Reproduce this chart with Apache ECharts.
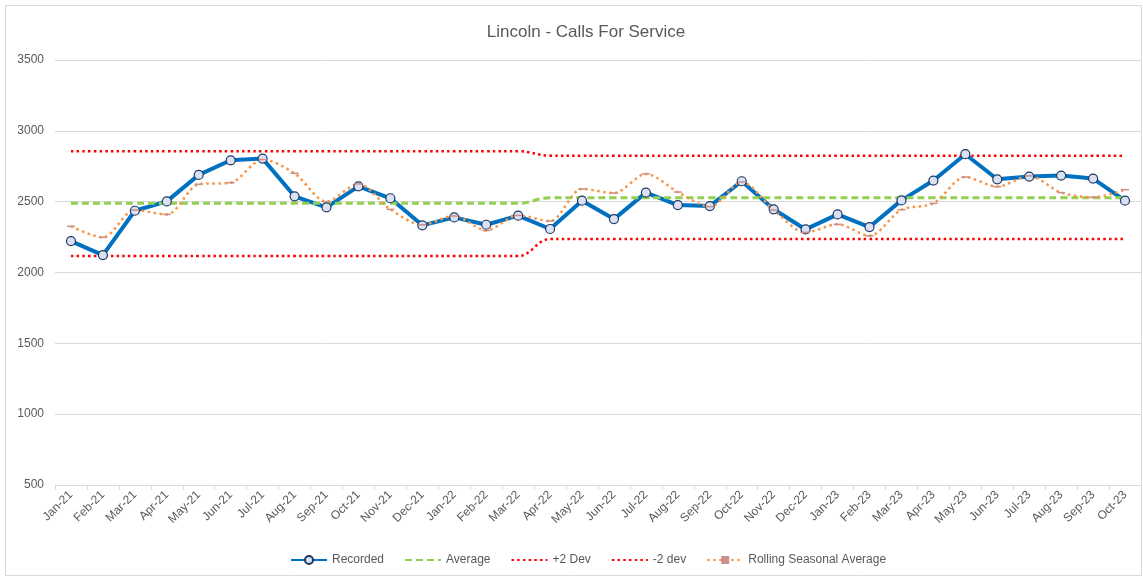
<!DOCTYPE html>
<html>
<head>
<meta charset="utf-8">
<script src="https://cdn.jsdelivr.net/npm/echarts@6/dist/echarts.min.js"></script>
<style>
  html, body { margin: 0; padding: 0; background: #fff; }
  #chart { width: 1143px; height: 577px; }
</style>
</head>
<body>
<div id="chart"></div>
<script>
const months = ['Jan-21','Feb-21','Mar-21','Apr-21','May-21','Jun-21','Jul-21','Aug-21','Sep-21','Oct-21','Nov-21','Dec-21',
  'Jan-22','Feb-22','Mar-22','Apr-22','May-22','Jun-22','Jul-22','Aug-22','Sep-22','Oct-22','Nov-22','Dec-22',
  'Jan-23','Feb-23','Mar-23','Apr-23','May-23','Jun-23','Jul-23','Aug-23','Sep-23','Oct-23']

const recorded = [2222, 2123, 2436, 2502, 2689, 2792, 2804, 2538, 2460, 2608, 2524, 2333,
  2389, 2337, 2401, 2307, 2507, 2377, 2564, 2476, 2469, 2644, 2446, 2304,
  2410, 2321, 2509, 2649, 2835, 2658, 2677, 2684, 2663, 2507]

const average = [2488, 2488, 2488, 2488, 2488, 2488, 2488, 2488, 2488, 2488, 2488, 2488,
  2488, 2488, 2488, 2528, 2528, 2528, 2528, 2528, 2528, 2528, 2528, 2528,
  2528, 2528, 2528, 2528, 2528, 2528, 2528, 2528, 2528, 2528]

const plus2Dev = [2856, 2856, 2856, 2856, 2856, 2856, 2856, 2856, 2856, 2856, 2856, 2856,
  2856, 2856, 2856, 2825, 2825, 2825, 2825, 2825, 2825, 2825, 2825, 2825,
  2825, 2825, 2825, 2825, 2825, 2825, 2825, 2825, 2825, 2825]

const minus2Dev = [2116, 2116, 2116, 2116, 2116, 2116, 2116, 2116, 2116, 2116, 2116, 2116,
  2116, 2116, 2116, 2236, 2236, 2236, 2236, 2236, 2236, 2236, 2236, 2236,
  2236, 2236, 2236, 2236, 2236, 2236, 2236, 2236, 2236, 2236]

const rollingAvg = [2326, 2248, 2441, 2410, 2623, 2634, 2797, 2700, 2500, 2625, 2446, 2337,
  2399, 2297, 2403, 2363, 2590, 2561, 2696, 2568, 2465, 2639, 2441, 2283,
  2340, 2259, 2443, 2488, 2674, 2606, 2682, 2564, 2531, 2585]

const yTicks = [500, 3500, 500] // min, max, step

const font = 'Liberation Sans'
const textColor = '#595959'
// flat dash marker used by the rolling average (keeps its aspect in the legend too)
const dashMark = 'path://M0 0H16V7H0Z'

const chart = echarts.init(document.getElementById('chart'))
chart.setOption({
  animation: false,
  textStyle: { fontFamily: font },
  graphic: [{
    type: 'rect',
    shape: { x: 5.5, y: 5.5, width: 1136, height: 570 },
    style: { fill: 'none', stroke: '#D9D9D9', lineWidth: 1 },
    silent: true,
    z: -10
  }],
  title: {
    text: 'Lincoln - Calls For Service',
    left: 581,
    textAlign: 'center',
    top: 19,
    textStyle: { fontFamily: font, fontSize: 17, fontWeight: 'normal', color: textColor }
  },
  legend: {
    left: 285,
    top: 549,
    itemWidth: 36,
    itemHeight: 10,
    itemGap: 20,
    symbolKeepAspect: true,
    textStyle: { fontFamily: font, fontSize: 12, color: textColor },
    data: [
      { name: 'Recorded' },
      { name: 'Average', itemStyle: { opacity: 0 } },
      { name: '+2 Dev', itemStyle: { opacity: 0 } },
      { name: '-2 dev', itemStyle: { opacity: 0 } },
      { name: 'Rolling Seasonal Average' }
    ]
  },
  grid: { left: 55, right: 2, top: 60, bottom: 92 },
  xAxis: {
    type: 'category',
    data: months,
    boundaryGap: true,
    axisLine: { lineStyle: { color: '#D9D9D9', width: 1 } },
    axisTick: { show: true, length: 5, lineStyle: { color: '#D9D9D9' } },
    axisLabel: { rotate: 45, fontSize: 12, color: textColor, margin: 8, interval: 0 }
  },
  yAxis: {
    type: 'value',
    min: yTicks[0],
    max: yTicks[1],
    interval: yTicks[2],
    axisLine: { show: false },
    axisTick: { show: false },
    axisLabel: { fontSize: 12, color: textColor, margin: 11, formatter: v => String(v) },
    splitLine: { lineStyle: { color: '#D9D9D9', width: 1 } }
  },
  series: [
    {
      name: 'Recorded',
      type: 'line',
      data: recorded,
      symbol: 'circle',
      symbolSize: 9,
      showSymbol: true,
      lineStyle: { color: '#0070C0', width: 4 },
      itemStyle: { color: '#D9E1F2', borderColor: '#203864', borderWidth: 1.2 }
    },
    {
      name: 'Average',
      type: 'line',
      data: average,
      symbol: 'none',
      smooth: 0.4,
      lineStyle: { color: '#92D050', width: 3, type: [7, 4] },
      itemStyle: { color: '#92D050' }
    },
    {
      name: '+2 Dev',
      type: 'line',
      data: plus2Dev,
      symbol: 'none',
      smooth: 0.4,
      lineStyle: { color: '#FF0000', width: 2.5, type: [2.5, 3.2] },
      itemStyle: { color: '#FF0000' }
    },
    {
      name: '-2 dev',
      type: 'line',
      data: minus2Dev,
      symbol: 'none',
      smooth: 0.4,
      lineStyle: { color: '#FF0000', width: 2.5, type: [2.5, 3.2] },
      itemStyle: { color: '#FF0000' }
    },
    {
      name: 'Rolling Seasonal Average',
      type: 'line',
      data: rollingAvg,
      symbol: dashMark,
      symbolSize: [8, 3.5],
      symbolKeepAspect: true,
      smooth: 0.3,
      lineStyle: { color: '#F79646', width: 2.5, type: [2.5, 3.5] },
      itemStyle: { color: '#CC8F8A' }
    }
  ]
})
</script>
</body>
</html>
